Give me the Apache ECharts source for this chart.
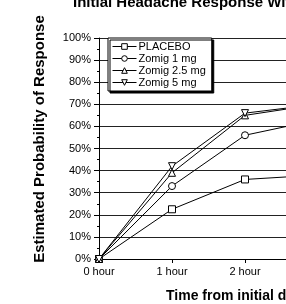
<!DOCTYPE html>
<html>
<head>
<meta charset="utf-8">
<script src="https://cdn.jsdelivr.net/npm/echarts@6/dist/echarts.min.js"></script>
<style>
  html, body { margin: 0; padding: 0; background: #fff; }
  #chart { width: 286px; height: 304px; }
</style>
</head>
<body>
<div id="chart"></div>
<script>
// hours after dose
var hours = [0, 1, 2, 3, 4];
// estimated probability of response (%)
var placebo = [0, 22.5, 36, 38, 39.5];
var zomig1 = [0, 33, 56, 63, 66];
var zomig25 = [0, 39, 65, 70, 72];
var zomig5 = [0, 42, 66, 70, 72];
var seriesNames = ['PLACEBO', 'Zomig 1 mg', 'Zomig 2.5 mg', 'Zomig 5 mg'];
var yTicks = [0, 10, 20, 30, 40, 50, 60, 70, 80, 90, 100];

function pairs(vals) {
    return hours.map(function (h, i) { return [h, vals[i]]; });
}

var myChart = echarts.init(document.getElementById('chart'));

var font = 'Liberation Sans, Arial, Helvetica, sans-serif';

function line(name, vals, symbol, rotate) {
    return {
        name: name,
        type: 'line',
        data: pairs(vals),
        symbol: symbol,
        symbolSize: 7,
        symbolRotate: rotate || 0,
        lineStyle: { color: '#000', width: 1 },
        itemStyle: { color: '#fff', borderColor: '#000', borderWidth: 1 },
        animation: false
    };
}

myChart.setOption({
    animation: false,
    title: [{
        text: 'Initial Headache Response Within 4 Hours',
        left: 73,
        top: -5,
        padding: 0,
        textStyle: { fontFamily: font, fontSize: 15, fontWeight: 'bold', color: '#000' }
    }, {
        text: 'Time from initial dose',
        left: 166,
        top: 289,
        padding: 0,
        textStyle: { fontFamily: font, fontSize: 14, fontWeight: 'bold', color: '#000' }
    }],
    graphic: [{
        type: 'text',
        x: 40,
        y: 139,
        rotation: Math.PI / 2,
        style: {
            text: 'Estimated Probability of Response',
            font: 'bold 15px ' + font,
            fill: '#000',
            align: 'center',
            verticalAlign: 'middle'
        }
    }],
    legend: {
        data: seriesNames,
        orient: 'vertical',
        left: 108,
        top: 38,
        itemWidth: 24,
        itemHeight: 7,
        itemGap: 1,
        padding: [3, 6, 3, 4],
        backgroundColor: '#fff',
        borderColor: '#000',
        borderWidth: 1,
        shadowColor: '#000',
        shadowOffsetX: 2,
        shadowOffsetY: 2,
        shadowBlur: 0,
        itemStyle: { color: '#fff', borderColor: '#000', borderWidth: 1 },
        lineStyle: { color: '#000', width: 1 },
        textStyle: { fontFamily: font, fontSize: 11, color: '#000', padding: [0, 0, 0, -3] }
    },
    grid: { left: 99, right: -105, top: 38, bottom: 45, outerBoundsMode: 'none', containLabel: false },
    xAxis: {
        type: 'value',
        min: 0,
        max: 4,
        interval: 1,
        axisLine: { lineStyle: { color: '#000', width: 1 } },
        axisTick: { length: 4, lineStyle: { color: '#000' } },
        splitLine: { show: false },
        axisLabel: {
            fontFamily: font, fontSize: 11, color: '#000', margin: 7,
            formatter: '{value} hour'
        }
    },
    yAxis: {
        type: 'value',
        min: 0,
        max: 100,
        interval: 10,
        axisLine: { show: true, lineStyle: { color: '#000', width: 1 } },
        axisTick: { show: true, length: 5, lineStyle: { color: '#000' } },
        minorTick: { show: true, splitNumber: 2, length: 2, lineStyle: { color: '#000' } },
        splitLine: { lineStyle: { color: '#222', width: 1 } },
        axisLabel: {
            fontFamily: font, fontSize: 11, color: '#000', margin: 8,
            formatter: function (v) { return yTicks.indexOf(v) >= 0 ? v + '%' : ''; }
        }
    },
    series: [
        line(seriesNames[0], placebo, 'rect'),
        line(seriesNames[1], zomig1, 'circle'),
        line(seriesNames[2], zomig25, 'triangle'),
        line(seriesNames[3], zomig5, 'triangle', 180)
    ]
});

window.onresize = function () {
    myChart.resize();
};
</script>
</body>
</html>
